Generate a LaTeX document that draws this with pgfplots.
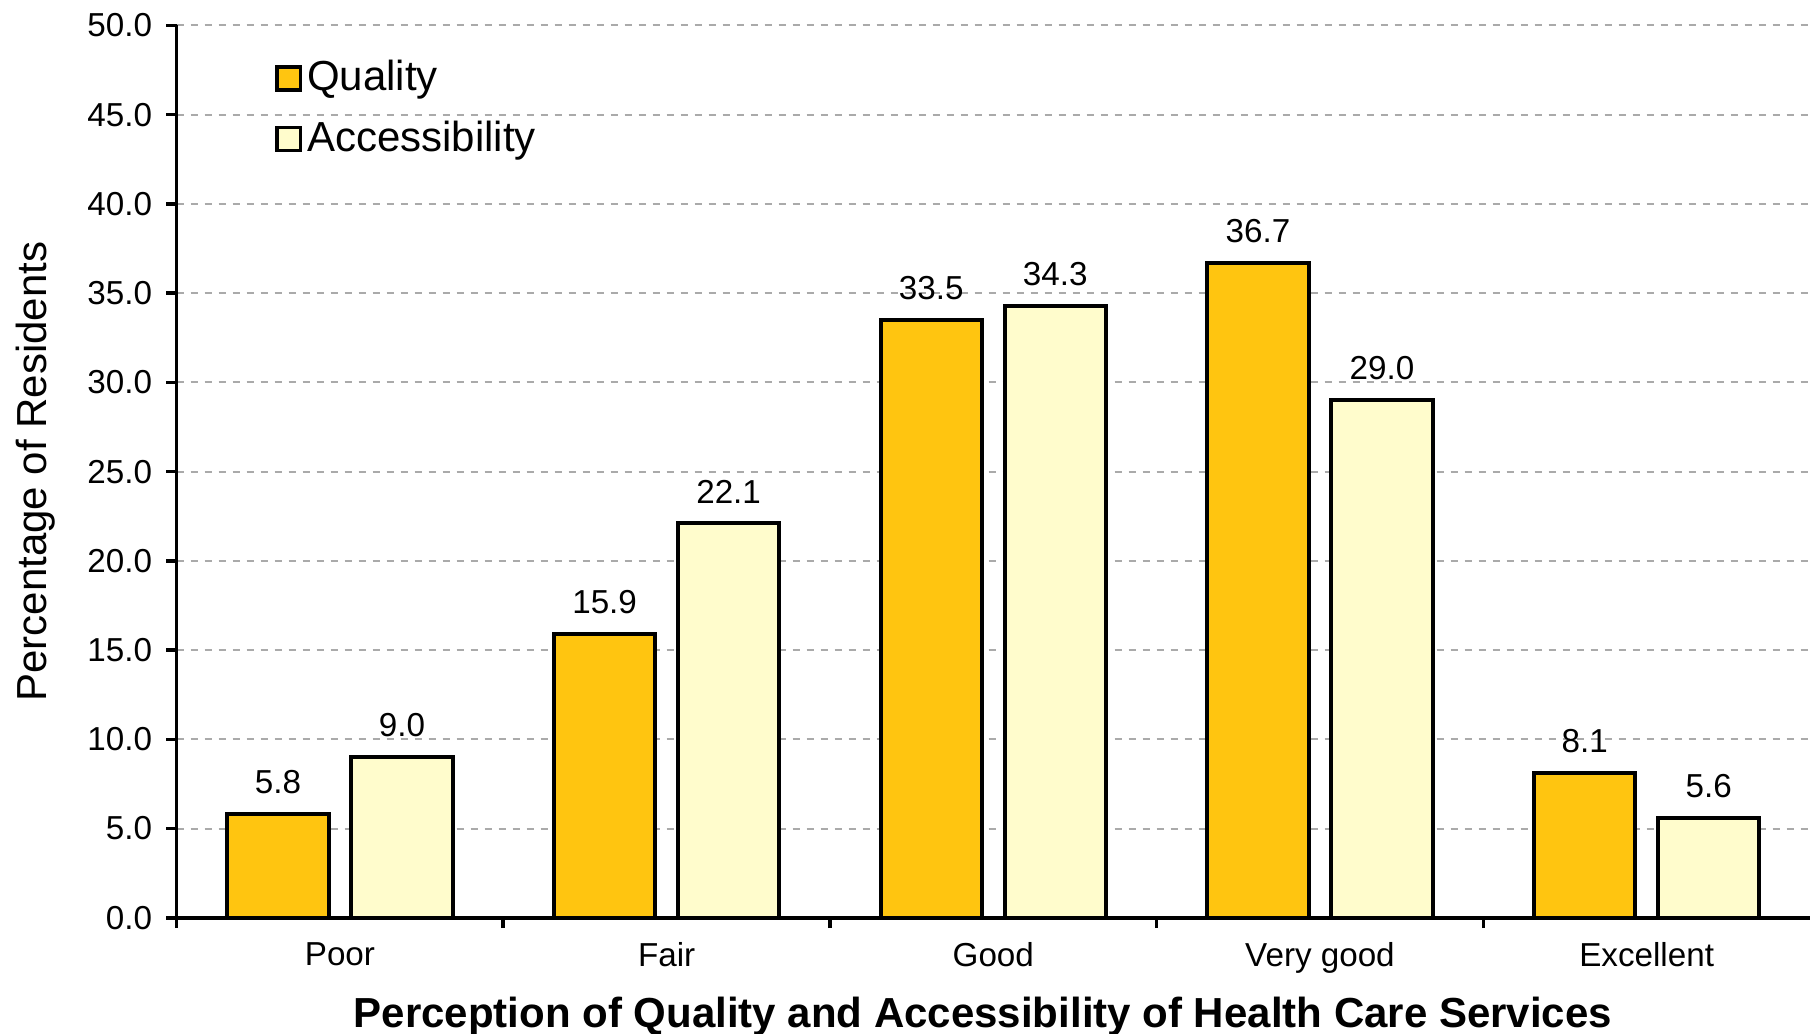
\documentclass[border=0pt]{standalone}
\usepackage{fontspec}
\setmainfont{Liberation Sans}
\usepackage{pgfplots}
\pgfplotsset{compat=1.18}

\definecolor{qualcol}{RGB}{255,197,16}
\definecolor{acccol}{RGB}{255,252,204}
\definecolor{gridcol}{RGB}{170,170,170}

\newcommand{\ticksize}{\fontsize{8.3}{10}\selectfont}
\newcommand{\labsize}{\fontsize{10.5}{12}\selectfont}

\begin{document}
\begin{tikzpicture}
\begin{axis}[
    scale only axis,
    width=408.35pt,
    height=223.1pt,
    at={(0,0)}, anchor=south west,
    ybar,
    bar width=25.3pt,
    xmin=-0.5, xmax=4.5,
    ymin=0, ymax=50,
    ytick distance=5,
    xtick={0,1,2,3,4},
    xticklabels={Poor,Fair,Good,Very good,Excellent},
    minor xtick={-0.5,0.5,1.5,2.5,3.5},
    axis lines*=left,
    axis line style={line width=0.9pt},
    tick align=outside,
    major tick length=2.6pt,
    minor tick length=2.6pt,
    major x tick style={draw=none},
    minor x tick style={black, line width=0.9pt},
    y tick style={black, line width=0.9pt},
    ymajorgrids,
    major grid style={gridcol, line width=0.5pt, dash pattern=on 1.9pt off 1.6pt},
    /pgf/number format/assume math mode=true,
    yticklabel style={font=\ticksize, /pgf/number format/.cd, fixed, fixed zerofill, precision=1},
    xticklabel style={font=\ticksize},
    ylabel={Percentage of Residents},
    xlabel={\bfseries Perception of Quality and Accessibility of Health Care Services},
    every axis y label/.style={at={(axis description cs:-0.0865,0.5)}, rotate=90, anchor=center, font=\labsize},
    every axis x label/.style={at={(axis description cs:0.4936,-0.111)}, anchor=center, font=\labsize},
    nodes near coords,
    every node near coord/.append style={font=\ticksize, black, yshift=1.2pt,
        /pgf/number format/.cd, fixed, fixed zerofill, precision=1},
    legend image code/.code={\draw[#1, line width=0.9pt] (0pt,-2.9pt) rectangle (5.8pt,2.9pt);},
    legend style={draw=none, fill=none, font=\labsize, at={(0.06,0.967)}, anchor=north west,
        inner sep=0pt, row sep=3.6pt, nodes={inner sep=1.2pt}},
    legend cell align=left,
]
\addplot[draw=black, line width=1pt, fill=qualcol, bar shift=-15.5pt] coordinates {
    (0,5.8) (1,15.9) (2,33.5) (3,36.7) (4,8.1)
};
\addplot[draw=black, line width=1pt, fill=acccol, bar shift=15.5pt] coordinates {
    (0,9.0) (1,22.1) (2,34.3) (3,29.0) (4,5.6)
};
\legend{Quality, Accessibility}
\end{axis}
\pgfresetboundingbox
\path[use as bounding box] (-44.15pt,-29.05pt) rectangle (408.35pt,229.45pt);
\end{tikzpicture}
\end{document}
